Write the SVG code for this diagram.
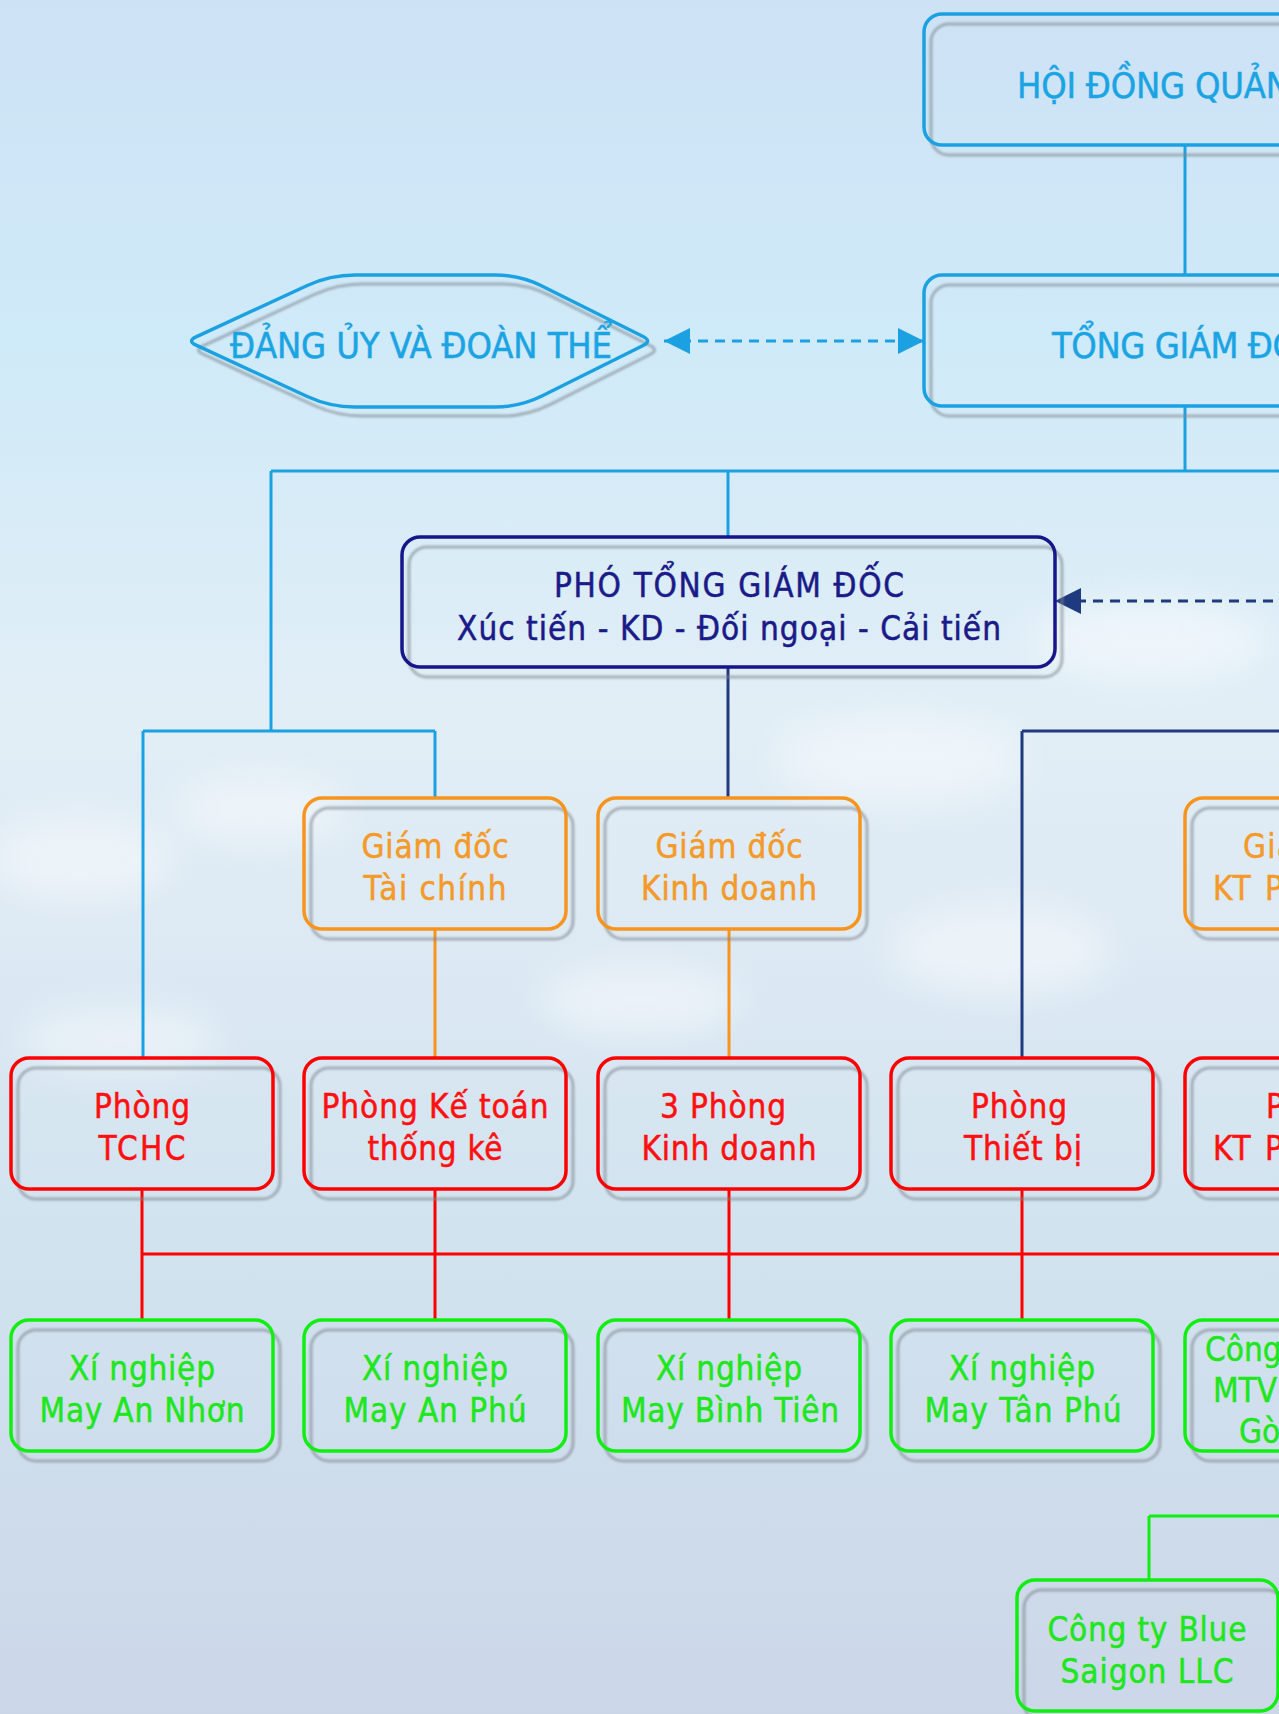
<svg xmlns="http://www.w3.org/2000/svg" width="1279" height="1714" viewBox="0 0 1279 1714">
<defs>
<linearGradient id="sky" x1="0" y1="0" x2="0" y2="1">
<stop offset="0" stop-color="#cde2f5"/>
<stop offset="0.2" stop-color="#cfeaf8"/>
<stop offset="0.42" stop-color="#e2eef6"/>
<stop offset="0.55" stop-color="#dde9f3"/>
<stop offset="0.7" stop-color="#d2e4f0"/>
<stop offset="1" stop-color="#cbd7e8"/>
</linearGradient>
<filter id="blur" x="-50%" y="-50%" width="200%" height="200%"><feGaussianBlur stdDeviation="18"/></filter>
<filter id="sblur" x="-5%" y="-5%" width="110%" height="110%"><feGaussianBlur stdDeviation="0.8"/></filter>
<marker id="arrB" markerUnits="userSpaceOnUse" markerWidth="26" markerHeight="26" viewBox="0 0 24 24" refX="24" refY="12" orient="auto-start-reverse">
<path d="M0,0 L24,12 L0,24 z" fill="#1ba1e2"/>
</marker>
<marker id="arrN" markerUnits="userSpaceOnUse" markerWidth="26" markerHeight="26" viewBox="0 0 24 24" refX="24" refY="12" orient="auto">
<path d="M0,0 L24,12 L0,24 z" fill="#1f3a7e"/>
</marker>
</defs>
<style>
.t{font-family:"DejaVu Sans Condensed","Liberation Sans",sans-serif;font-size:33px;text-anchor:middle;stroke-width:0.5}
.s{text-anchor:start}
.big{font-size:36px}
.shadow{fill:none;stroke:#7f868e;stroke-width:3;opacity:0.6;filter:url(#sblur)}
.bx{fill:none;stroke-width:3.5}
.blue{stroke:#1ba1e2}
.navy{stroke:#16168a}
.org{stroke:#f7941d}
.red{stroke:#ff0000}
.grn{stroke:#11ee11}
.tb{fill:#1ba4e3;stroke:#1ba4e3}
.tn{fill:#1a1a88;stroke:#1a1a88}
.to{fill:#f39a2b;stroke:#f39a2b}
.tr{fill:#ff1010;stroke:#ff1010}
.tg{fill:#20e620;stroke:#20e620}
.c{fill:none;stroke-width:3}
</style>
<rect x="0" y="0" width="1279" height="1714" fill="url(#sky)"/>
<g filter="url(#blur)" fill="#ffffff" opacity="0.45">
<ellipse cx="80" cy="860" rx="90" ry="40"/>
<ellipse cx="260" cy="810" rx="80" ry="30"/>
<ellipse cx="900" cy="760" rx="120" ry="40"/>
<ellipse cx="1000" cy="950" rx="110" ry="45"/>
<ellipse cx="640" cy="1000" rx="100" ry="35"/>
<ellipse cx="120" cy="1040" rx="100" ry="30"/>
<ellipse cx="1150" cy="640" rx="120" ry="40"/>
</g>

<g id="connectors">
<path class="c" stroke="#1ba1e2" d="M1185 145 V275 M1185 406 V471 M271 471 H1290 M728 471 V537 M271 471 V731 M143 731 H435 M143 731 V1058 M435 731 V798"/>
<path class="c" stroke="#1f3a7e" d="M728 667 V798 M1022 731 H1290 M1022 731 V1058"/>
<path class="c" stroke="#f7941d" d="M435 929 V1058 M729 929 V1058"/>
<path class="c" stroke="#ff0000" d="M142 1189 V1320 M435 1189 V1320 M729 1189 V1320 M1022 1189 V1320 M142 1254 H1290"/>
<path class="c" stroke="#11ee11" d="M1149 1516 H1290 M1149 1516 V1580"/>
<path class="c" stroke="#1ba1e2" stroke-dasharray="10 7" d="M664 341 H924" marker-start="url(#arrB)" marker-end="url(#arrB)"/>
<path class="c" stroke="#1f3a7e" stroke-dasharray="10 7" d="M1290 601 H1055" marker-end="url(#arrN)"/>
</g>

<g id="hdqt">
<rect class="shadow" x="931" y="24" width="500" height="131" rx="18"/>
<rect class="bx blue" x="924" y="14" width="500" height="131" rx="18"/>
<text class="t s big tb" x="1017" y="98" textLength="273">HỘI ĐỒNG QUẢN</text>
</g>

<g id="tgd">
<rect class="shadow" x="931" y="285" width="500" height="131" rx="18"/>
<rect class="bx blue" x="924" y="275" width="500" height="131" rx="18"/>
<text class="t s big tb" x="1052" y="358" textLength="246">TỔNG GIÁM ĐỐ</text>
</g>

<g id="dangu">
<path class="shadow" transform="translate(7,9)" d="M307.3,285.5 Q330,275 355,275 L495,275 Q520,275 542.4,286.2 L643.1,336.5 Q652,341 643.1,345.5 L542.4,395.8 Q520,407 495,407 L355,407 Q330,407 307.3,396.5 L196.1,345.2 Q187,341 196.1,336.8 Z"/>
<path class="bx blue" d="M307.3,285.5 Q330,275 355,275 L495,275 Q520,275 542.4,286.2 L643.1,336.5 Q652,341 643.1,345.5 L542.4,395.8 Q520,407 495,407 L355,407 Q330,407 307.3,396.5 L196.1,345.2 Q187,341 196.1,336.8 Z"/>
<text class="t big tb" x="421" y="358" textLength="382">ĐẢNG ỦY VÀ ĐOÀN THỂ</text>
</g>

<g id="ptgd">
<rect class="shadow" x="409" y="547" width="653" height="130" rx="18"/>
<rect class="bx navy" x="402" y="537" width="653" height="130" rx="18"/>
<text class="t tn" x="729" y="597" textLength="350">PHÓ TỔNG GIÁM ĐỐC</text>
<text class="t tn" x="729" y="640" textLength="544">Xúc tiến - KD - Đối ngoại - Cải tiến</text>
</g>

<g id="gd-taichinh">
<rect class="shadow" x="311" y="808" width="262" height="131" rx="18"/>
<rect class="bx org" x="304" y="798" width="262" height="131" rx="18"/>
<text class="t to" x="435" y="858" textLength="147">Giám đốc</text>
<text class="t to" x="435" y="900" textLength="143">Tài chính</text>
</g>
<g id="gd-kinhdoanh">
<rect class="shadow" x="605" y="808" width="262" height="131" rx="18"/>
<rect class="bx org" x="598" y="798" width="262" height="131" rx="18"/>
<text class="t to" x="729" y="858" textLength="147">Giám đốc</text>
<text class="t to" x="729" y="900" textLength="176">Kinh doanh</text>
</g>
<g id="gd-ktp">
<rect class="shadow" x="1192" y="808" width="262" height="131" rx="18"/>
<rect class="bx org" x="1185" y="798" width="262" height="131" rx="18"/>
<text class="t s to" x="1243" y="858" textLength="52">Giá</text>
<text class="t s to" x="1213" y="900" textLength="70">KT P</text>
</g>

<g id="p-tchc">
<rect class="shadow" x="18" y="1068" width="262" height="131" rx="18"/>
<rect class="bx red" x="11" y="1058" width="262" height="131" rx="18"/>
<text class="t tr" x="142" y="1118" textLength="96">Phòng</text>
<text class="t tr" x="142" y="1160" textLength="87">TCHC</text>
</g>
<g id="p-ketoan">
<rect class="shadow" x="311" y="1068" width="262" height="131" rx="18"/>
<rect class="bx red" x="304" y="1058" width="262" height="131" rx="18"/>
<text class="t tr" x="435" y="1118" textLength="227">Phòng Kế toán</text>
<text class="t tr" x="435" y="1160" textLength="135">thống kê</text>
</g>
<g id="p-kinhdoanh">
<rect class="shadow" x="605" y="1068" width="262" height="131" rx="18"/>
<rect class="bx red" x="598" y="1058" width="262" height="131" rx="18"/>
<text class="t tr" x="723" y="1118" textLength="126">3 Phòng</text>
<text class="t tr" x="729" y="1160" textLength="175">Kinh doanh</text>
</g>
<g id="p-thietbi">
<rect class="shadow" x="898" y="1068" width="262" height="131" rx="18"/>
<rect class="bx red" x="891" y="1058" width="262" height="131" rx="18"/>
<text class="t tr" x="1019" y="1118" textLength="96">Phòng</text>
<text class="t tr" x="1023" y="1160" textLength="118">Thiết bị</text>
</g>
<g id="p-ktp">
<rect class="shadow" x="1192" y="1068" width="262" height="131" rx="18"/>
<rect class="bx red" x="1185" y="1058" width="262" height="131" rx="18"/>
<text class="t s tr" x="1266" y="1118">P</text>
<text class="t s tr" x="1213" y="1160" textLength="70">KT P</text>
</g>

<g id="xn-annhon">
<rect class="shadow" x="18" y="1330" width="262" height="131" rx="18"/>
<rect class="bx grn" x="11" y="1320" width="262" height="131" rx="18"/>
<text class="t tg" x="142" y="1380" textLength="146">Xí nghiệp</text>
<text class="t tg" x="142" y="1422" textLength="205">May An Nhơn</text>
</g>
<g id="xn-anphu">
<rect class="shadow" x="311" y="1330" width="262" height="131" rx="18"/>
<rect class="bx grn" x="304" y="1320" width="262" height="131" rx="18"/>
<text class="t tg" x="435" y="1380" textLength="146">Xí nghiệp</text>
<text class="t tg" x="435" y="1422" textLength="183">May An Phú</text>
</g>
<g id="xn-binhtien">
<rect class="shadow" x="605" y="1330" width="262" height="131" rx="18"/>
<rect class="bx grn" x="598" y="1320" width="262" height="131" rx="18"/>
<text class="t tg" x="729" y="1380" textLength="146">Xí nghiệp</text>
<text class="t tg" x="730" y="1422" textLength="218">May Bình Tiên</text>
</g>
<g id="xn-tanphu">
<rect class="shadow" x="898" y="1330" width="262" height="131" rx="18"/>
<rect class="bx grn" x="891" y="1320" width="262" height="131" rx="18"/>
<text class="t tg" x="1022" y="1380" textLength="146">Xí nghiệp</text>
<text class="t tg" x="1023" y="1422" textLength="197">May Tân Phú</text>
</g>
<g id="cty-mtv">
<rect class="shadow" x="1192" y="1330" width="262" height="131" rx="18"/>
<rect class="bx grn" x="1185" y="1320" width="262" height="131" rx="18"/>
<text class="t s tg" x="1205" y="1361">Công</text>
<text class="t s tg" x="1213" y="1402">MTV</text>
<text class="t s tg" x="1239" y="1443">Gò</text>
</g>
<g id="blue-saigon">
<rect class="shadow" x="1024" y="1590" width="261" height="131" rx="18"/>
<rect class="bx grn" x="1017" y="1580" width="261" height="131" rx="18"/>
<text class="t tg" x="1147" y="1641" textLength="199">Công ty Blue</text>
<text class="t tg" x="1147" y="1683" textLength="173">Saigon LLC</text>
</g>
</svg>
